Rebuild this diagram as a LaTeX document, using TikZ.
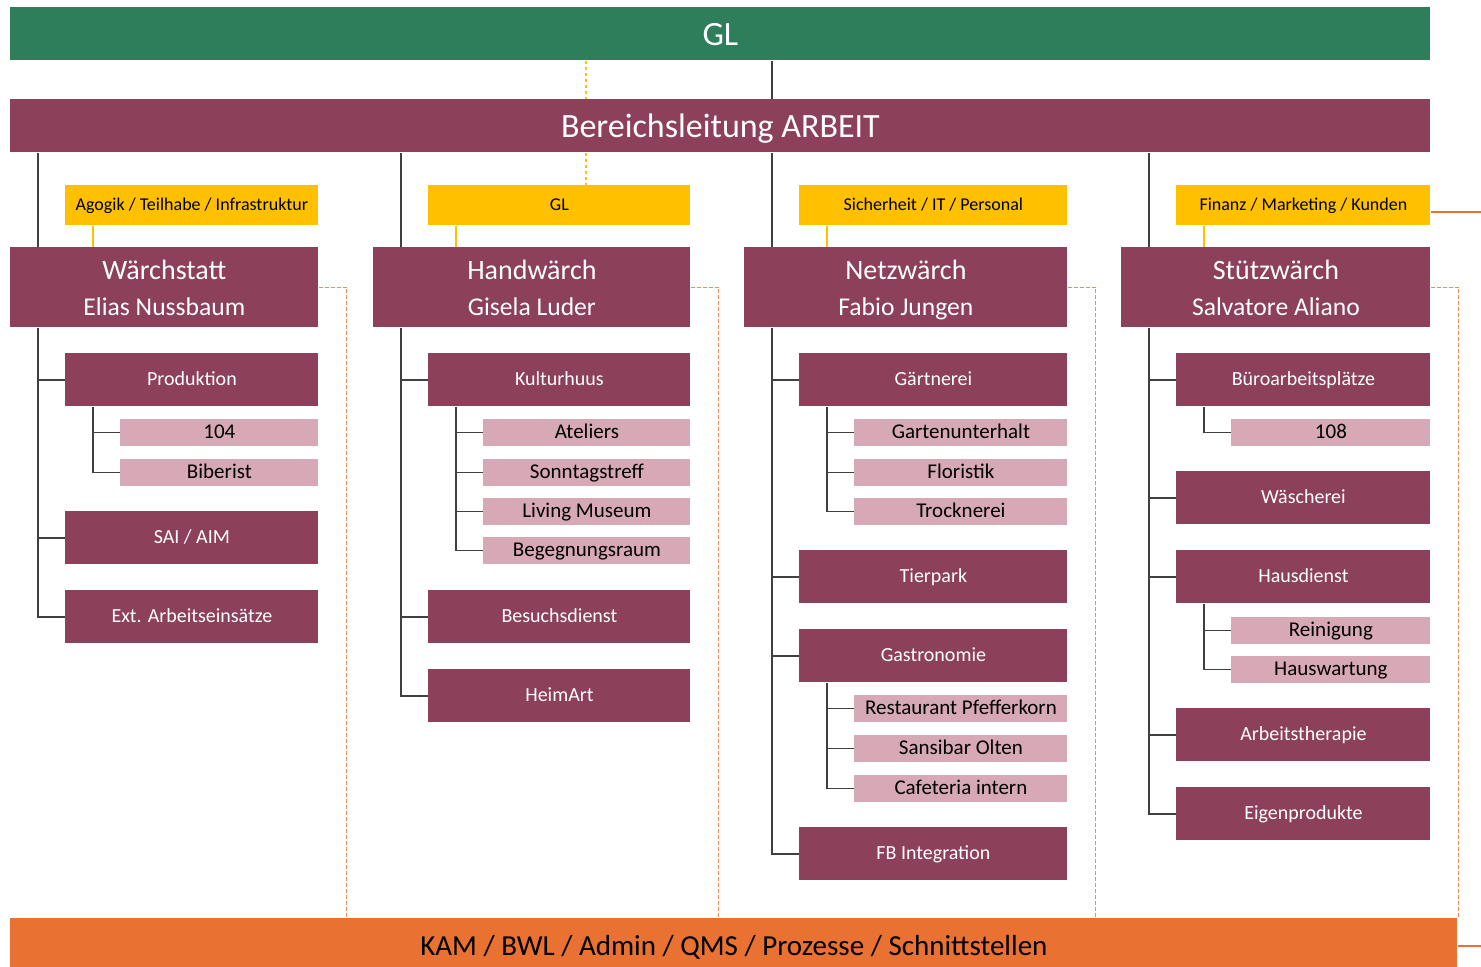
\documentclass[tikz,border=0pt]{standalone}
\usepackage{fontspec}
\setmainfont{Carlito}
\usetikzlibrary{positioning}

\definecolor{gruen}{HTML}{2E7D5B}
\definecolor{bordeaux}{HTML}{8C4059}
\definecolor{rosa}{HTML}{D7A8B6}
\definecolor{gelb}{HTML}{FFC000}
\definecolor{orange}{HTML}{E97132}
\definecolor{strich}{HTML}{404040}

\newcommand{\kopf}[2]{{\fontsize{14}{18}\selectfont\rule{0pt}{15.6pt}#1}\\\strut #2}

\begin{document}
\begin{tikzpicture}[x=0.5pt,y=-0.5pt,
every node/.style={inner sep=0pt,anchor=north west},
wd/.style={minimum width=#1*0.5pt},
balken/.style={minimum height=26.5pt,text height=12pt,text depth=0.5pt,
  font=\fontsize{17}{20}\selectfont},
leitung/.style={fill=bordeaux,text=white,minimum height=40pt,align=center,
  font=\fontsize{12.8}{18}\selectfont},
abt/.style={fill=bordeaux,text=white,minimum height=26.5pt,text height=7pt,text depth=1pt,
  font=\fontsize{10}{12}\selectfont},
team/.style={fill=rosa,minimum height=13.25pt,text height=7.5pt,text depth=1.5pt,
  font=\fontsize{10.5}{12}\selectfont},
fach/.style={fill=gelb,minimum height=20pt,text height=6.5pt,text depth=1.5pt,
  font=\fontsize{9}{11}\selectfont},
linie/.style={draw=strich,line width=0.8pt},
gelblinie/.style={draw=gelb,line width=1pt},
gepunktet/.style={draw=gelb,line width=0.6pt,dash pattern=on 1.5pt off 1.5pt},
gestrichelt/.style={draw=orange!80,line width=0.6pt,dash pattern=on 2pt off 1pt}]
\useasboundingbox (0,0) rectangle (1481,967);

% Leitung
\node[balken,wd=1420,fill=gruen,text=white] (gl) at (10,7) {GL};
\node[balken,wd=1420,fill=bordeaux,text=white] (bl) at (10,99) {Bereichsleitung ARBEIT};
\node[wd=1447,minimum height=28pt,text height=10pt,text depth=1pt,fill=orange,
  font=\fontsize{14.5}{17}\selectfont] (kam) at (10,918)
  {KAM / BWL / Admin / QMS / Prozesse / Schnittstellen};

% Fachbereiche
\node[fach,wd=253] (fa1) at (65,185) {Agogik / Teilhabe / Infrastruktur};
\node[fach,wd=262] (fa2) at (428,185) {GL};
\node[fach,wd=268] (fa3) at (799,185) {Sicherheit / IT / Personal};
\node[fach,wd=254] (fa4) at (1176,185) {Finanz / Marketing / Kunden};

\node[leitung,wd=308] (ws) at (10,247) {\kopf{Wärchstatt}{Elias Nussbaum}};
\node[leitung,wd=317] (hw) at (373,247) {\kopf{Handwärch}{Gisela Luder}};
\node[leitung,wd=323] (nw) at (744,247) {\kopf{Netzwärch}{Fabio Jungen}};
\node[leitung,wd=309] (sw) at (1121,247) {\kopf{Stützwärch}{Salvatore Aliano}};

% Wärchstatt
\node[abt,wd=253] (prod) at (65,353) {Produktion};
\node[team,wd=198] (n104) at (120,419) {104};
\node[team,wd=198] (bib) at (120,459) {Biberist};
\node[abt,wd=253] (sai) at (65,511) {SAI / AIM};
\node[abt,wd=253] (ext) at (65,590) {Ext. Arbeitseinsätze};

% Handwärch
\node[abt,wd=262] (kult) at (428,353) {Kulturhuus};
\node[team,wd=207] (atel) at (483,419) {Ateliers};
\node[team,wd=207] (sonn) at (483,459) {Sonntagstreff};
\node[team,wd=207] (liv) at (483,498) {Living Museum};
\node[team,wd=207] (beg) at (483,537) {Begegnungsraum};
\node[abt,wd=262] (besu) at (428,590) {Besuchsdienst};
\node[abt,wd=262] (heim) at (428,669) {HeimArt};

% Netzwärch
\node[abt,wd=268] (gart) at (799,353) {Gärtnerei};
\node[team,wd=213] (gu) at (854,419) {Gartenunterhalt};
\node[team,wd=213] (flor) at (854,459) {Floristik};
\node[team,wd=213] (troc) at (854,498) {Trocknerei};
\node[abt,wd=268] (tier) at (799,550) {Tierpark};
\node[abt,wd=268] (gast) at (799,629) {Gastronomie};
\node[team,wd=213] (rest) at (854,695) {Restaurant Pfefferkorn};
\node[team,wd=213] (sans) at (854,735) {Sansibar Olten};
\node[team,wd=213] (cafe) at (854,775) {Cafeteria intern};
\node[abt,wd=268] (fbi) at (799,827) {FB Integration};

% Stützwärch
\node[abt,wd=254] (buero) at (1176,353) {Büroarbeitsplätze};
\node[team,wd=199] (n108) at (1231,419) {108};
\node[abt,wd=254] (wae) at (1176,471) {Wäscherei};
\node[abt,wd=254] (haus) at (1176,550) {Hausdienst};
\node[team,wd=199] (rein) at (1231,617) {Reinigung};
\node[team,wd=199] (hausw) at (1231,656) {Hauswartung};
\node[abt,wd=254] (arb) at (1176,708) {Arbeitstherapie};
\node[abt,wd=254] (eigen) at (1176,787) {Eigenprodukte};

% Linien
\draw[linie] ([xshift=14pt]nw.north west |- gl.south) -- ([xshift=14pt]nw.north west |- bl.north);
\foreach \h in {ws,hw,nw,sw}
  \draw[linie] ([xshift=14pt]\h.north west |- bl.south) -- ([xshift=14pt]\h.north west);
\foreach \o/\u in {ws/prod,ws/sai,ws/ext,prod/n104,prod/bib,
  hw/kult,hw/besu,hw/heim,kult/atel,kult/sonn,kult/liv,kult/beg,
  nw/gart,nw/tier,nw/gast,nw/fbi,gart/gu,gart/flor,gart/troc,gast/rest,gast/sans,gast/cafe,
  sw/buero,sw/wae,sw/haus,sw/arb,sw/eigen,buero/n108,haus/rein,haus/hausw}
  \draw[linie] ([xshift=14pt]\o.south west) |- (\u.west);

\coordinate (gp) at (586,0);
\draw[gepunktet] (gp |- gl.south) -- (gp |- bl.north);
\draw[gepunktet] (gp |- bl.south) -- (gp |- fa2.north);
\foreach \f/\h in {fa1/ws,fa2/hw,fa3/nw,fa4/sw}
  \draw[gelblinie] ([xshift=14pt]\f.south west) -- ([xshift=14pt]\f.south west |- \h.north);
\foreach \h in {ws,hw,nw,sw}
  \draw[gestrichelt] (\h.east |- ws.east) -| ([xshift=14pt]\h.east |- kam.north);

\coordinate (rand1) at (1481,212);
\coordinate (rand2) at (1481,946);
\draw[orange,line width=0.8pt] (rand1 -| fa4.east) -- (rand1);
\draw[orange,line width=0.8pt] (rand2 -| kam.east) -- (rand2);
\end{tikzpicture}
\end{document}
